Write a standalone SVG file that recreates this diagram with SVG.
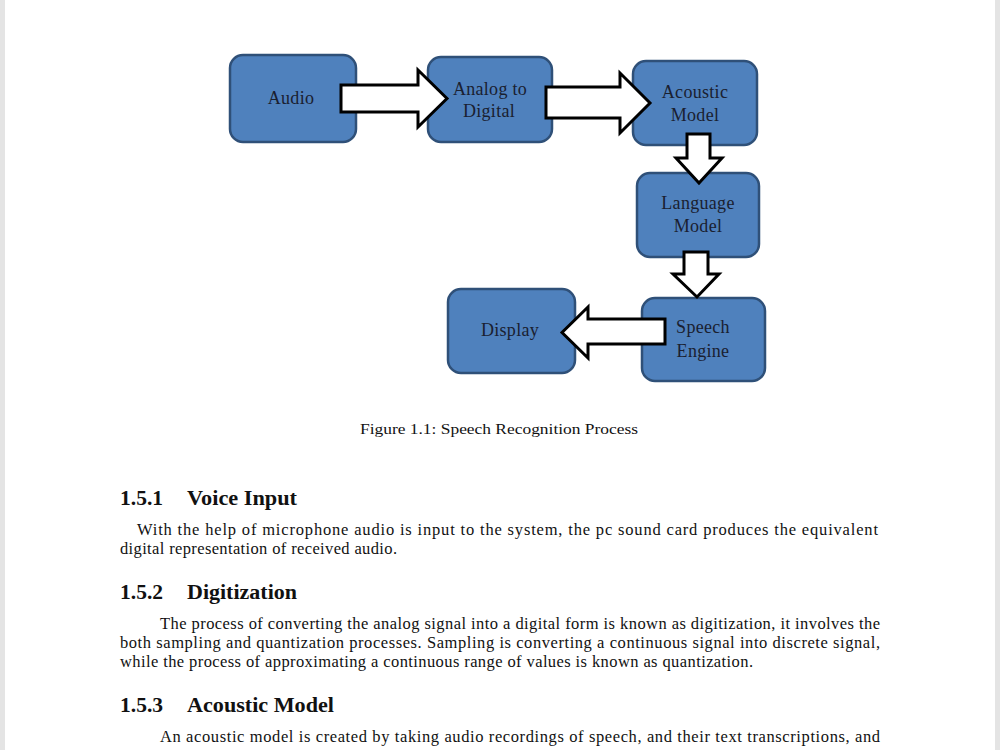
<svg xmlns="http://www.w3.org/2000/svg" width="1000" height="750" viewBox="0 0 1000 750">
<style>
.box{fill:#4F81BD;stroke:#2F5078;stroke-width:2.5}
.lbl{font-family:"Liberation Serif","Times New Roman",serif;font-size:18px;fill:#1a2030;text-anchor:middle;letter-spacing:0.3px}
.arr{fill:#ffffff;stroke:#000000;stroke-width:3;stroke-linejoin:miter}
.body{font-family:"Liberation Serif","Times New Roman",serif;font-size:16.5px;fill:#111}
.head{font-family:"Liberation Serif","Times New Roman",serif;font-size:20px;font-weight:bold;fill:#111}
.cap{font-family:"Liberation Serif","Times New Roman",serif;font-size:15.5px;fill:#111}
</style>
<rect x="0" y="0" width="1000" height="750" fill="#ffffff"/>
<rect x="0" y="0" width="5" height="750" fill="#e4e4e4"/>
<rect x="995" y="0" width="5" height="750" fill="#e4e4e4"/>

<g id="node-audio">
<rect class="box" x="230" y="55" width="126" height="87" rx="13"/>
<text class="lbl" x="291" y="104">Audio</text>
</g>
<g id="node-analog">
<rect class="box" x="428" y="57" width="124" height="85" rx="13"/>
<text class="lbl" x="490" y="95">Analog to</text>
<text class="lbl" x="489" y="117">Digital</text>
</g>
<g id="node-acoustic">
<rect class="box" x="633" y="61" width="124" height="84" rx="13"/>
<text class="lbl" x="695" y="98">Acoustic</text>
<text class="lbl" x="695" y="121">Model</text>
</g>
<g id="node-language">
<rect class="box" x="637" y="173" width="122" height="84" rx="13"/>
<text class="lbl" x="698" y="209">Language</text>
<text class="lbl" x="698" y="232">Model</text>
</g>
<g id="node-display">
<rect class="box" x="448" y="289" width="127" height="84" rx="13"/>
<text class="lbl" x="510" y="336">Display</text>
</g>
<g id="node-speech">
<rect class="box" x="642" y="298" width="123" height="83" rx="13"/>
<text class="lbl" x="703" y="333">Speech</text>
<text class="lbl" x="703" y="357">Engine</text>
</g>

<g id="connectors">
<polygon class="arr" points="341,85 418,85 418,70 447,98.5 418,127 418,112 341,112"/>
<polygon class="arr" points="546,87 620,87 620,73 650,103 620,133 620,118 546,118"/>
<polygon class="arr" points="687,134 710,134 710,158 722,158 699,183 676,158 687,158"/>
<polygon class="arr" points="684,252 708,252 708,274 719,274 697,297 673,274 684,274"/>
<polygon class="arr" points="665,319 588,319 588,307 562,332.5 588,358 588,344 665,344"/>
</g>

<g id="text">
<text class="cap" x="360" y="434" textLength="278" lengthAdjust="spacingAndGlyphs">Figure 1.1: Speech Recognition Process</text>

<text class="head" x="120" y="505" textLength="43" lengthAdjust="spacingAndGlyphs">1.5.1</text>
<text class="head" x="187" y="505" textLength="110" lengthAdjust="spacingAndGlyphs">Voice Input</text>
<text class="body" x="137" y="535" textLength="741" lengthAdjust="spacing">With the help of microphone audio is input to the system, the pc sound card produces the equivalent</text>
<text class="body" x="120" y="554" textLength="277" lengthAdjust="spacing">digital representation of received audio.</text>

<text class="head" x="120" y="599" textLength="43" lengthAdjust="spacingAndGlyphs">1.5.2</text>
<text class="head" x="187" y="599" textLength="110" lengthAdjust="spacingAndGlyphs">Digitization</text>
<text class="body" x="160" y="629" textLength="720" lengthAdjust="spacing">The process of converting the analog signal into a digital form is known as digitization, it involves the</text>
<text class="body" x="120" y="648" textLength="760" lengthAdjust="spacing">both sampling and quantization processes.  Sampling is converting a continuous signal into discrete signal,</text>
<text class="body" x="120" y="667" textLength="633" lengthAdjust="spacing">while the process of approximating a continuous range of values is known as quantization.</text>

<text class="head" x="120" y="712" textLength="43" lengthAdjust="spacingAndGlyphs">1.5.3</text>
<text class="head" x="187" y="712" textLength="147" lengthAdjust="spacingAndGlyphs">Acoustic Model</text>
<text class="body" x="160" y="742" textLength="720" lengthAdjust="spacing">An acoustic model is created by taking audio recordings of speech, and their text transcriptions, and</text>
</g>
</svg>
